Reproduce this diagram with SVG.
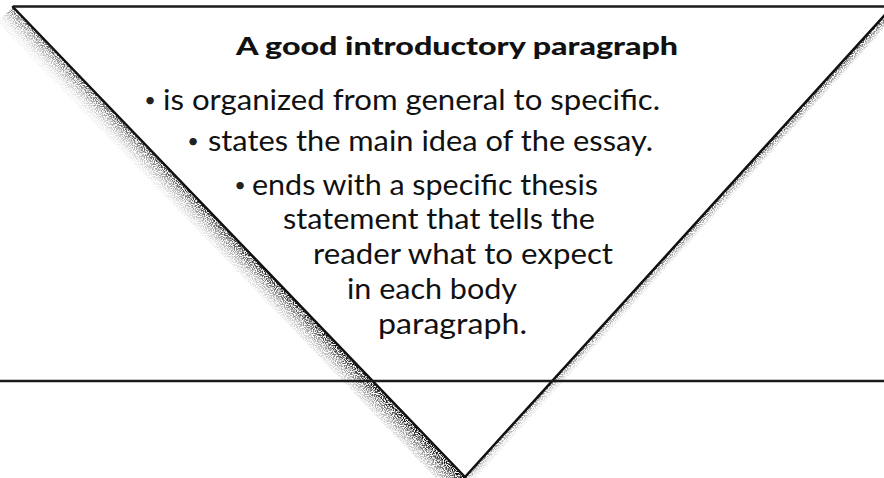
<svg xmlns="http://www.w3.org/2000/svg" width="884" height="478" viewBox="0 0 884 478">
<style>
.edge{stroke:#111;stroke-width:2.5;fill:none;stroke-linecap:round}
.rule{stroke:#1a1a1a;stroke-width:2.5;fill:none}
.body{font-family:Lato,"Open Sans","Liberation Sans",sans-serif;font-size:28px;fill:#111}
.bul{font-family:Lato,"Open Sans","Liberation Sans",sans-serif;font-size:20px;fill:#222;text-anchor:middle}
.title{font-family:Lato,"Open Sans","Liberation Sans",sans-serif;font-size:25px;font-weight:900;fill:#111}
</style>
<defs>
<filter id="grain" x="0" y="0" width="884" height="478" filterUnits="userSpaceOnUse">
<feTurbulence type="fractalNoise" baseFrequency="0.9" numOctaves="1" seed="7" result="n"/>
<feColorMatrix in="n" type="matrix" values="0 0 0 0 0  0 0 0 0 0  0 0 0 0 0  5 0 0 0 -2.0" result="m"/>
<feComposite in="SourceGraphic" in2="m" operator="in"/>
</filter>
<linearGradient id="gl" gradientUnits="userSpaceOnUse" x1="239" y1="242" x2="223" y2="257">
<stop offset="0" stop-color="#000" stop-opacity="0.95"/>
<stop offset="0.2" stop-color="#222" stop-opacity="0.8"/>
<stop offset="0.55" stop-color="#666" stop-opacity="0.5"/>
<stop offset="1" stop-color="#aaa" stop-opacity="0.15"/>
</linearGradient>
<linearGradient id="gr" gradientUnits="userSpaceOnUse" x1="679" y1="241" x2="685" y2="246.5">
<stop offset="0" stop-color="#111" stop-opacity="0.9"/>
<stop offset="1" stop-color="#999" stop-opacity="0.2"/>
</linearGradient>
</defs>
<g id="shape">
<polygon points="13,7 465,477 449,492 -3,22" fill="url(#gl)" filter="url(#grain)"/>
<polygon points="893,6 465,477 471,483 899,12" fill="url(#gr)" filter="url(#grain)"/>
<line class="edge" x1="13" y1="7" x2="465" y2="477"/>
<line class="edge" x1="465" y1="477" x2="893" y2="6"/>
<line class="rule" x1="13" y1="6.5" x2="884" y2="6.5"/>
<line class="rule" x1="0" y1="381" x2="884" y2="381"/>
</g>
<g id="title">
<text class="title" x="236" y="55" textLength="442" lengthAdjust="spacingAndGlyphs">A good introductory paragraph</text>
</g>
<g id="points">
<text class="bul" x="150" y="107">•</text>
<text class="bul" x="193" y="148">•</text>
<text class="bul" x="240" y="192">•</text>
<text class="body" x="163" y="110" textLength="497" lengthAdjust="spacingAndGlyphs">is organized from general to specific.</text>
<text class="body" x="208" y="151" textLength="445" lengthAdjust="spacingAndGlyphs">states the main idea of the essay.</text>
<text class="body" x="252" y="195" textLength="346" lengthAdjust="spacingAndGlyphs">ends with a specific thesis</text>
<text class="body" x="283" y="229" textLength="312" lengthAdjust="spacingAndGlyphs">statement that tells the</text>
<text class="body" x="313" y="264" textLength="300" lengthAdjust="spacingAndGlyphs">reader what to expect</text>
<text class="body" x="347" y="299" textLength="170" lengthAdjust="spacingAndGlyphs">in each body</text>
<text class="body" x="378" y="334" textLength="149" lengthAdjust="spacingAndGlyphs">paragraph.</text>
</g>
</svg>
